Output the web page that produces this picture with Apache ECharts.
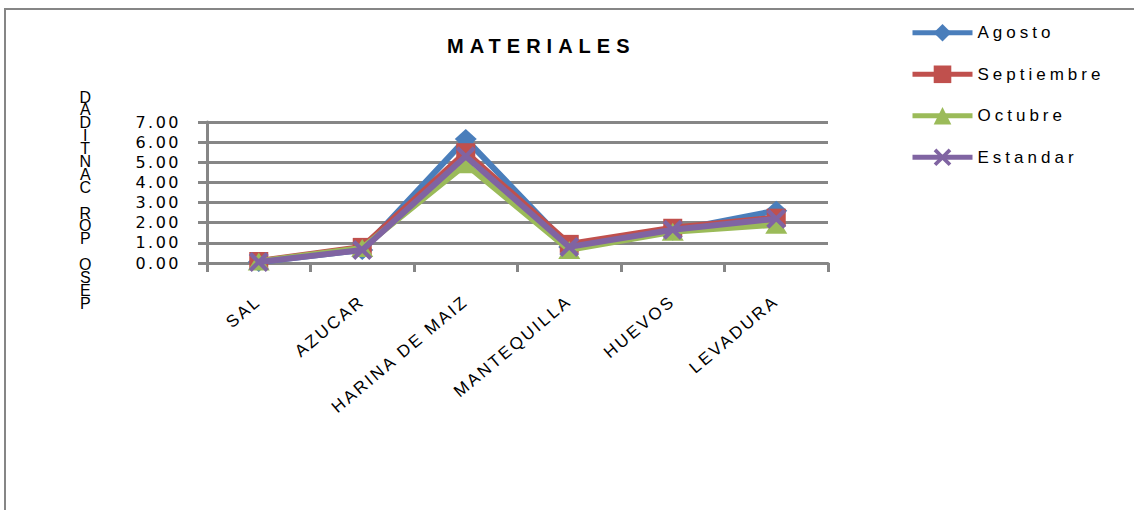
<!DOCTYPE html>
<html>
<head>
<meta charset="utf-8">
<script src="https://cdn.jsdelivr.net/npm/echarts@6/dist/echarts.min.js"></script>
<style>
  html, body { margin: 0; padding: 0; background: #ffffff; }
  #chart { width: 1134px; height: 510px; }
  /* tracked (letter-spaced) text for title, legend, value and category labels */
  #chart text[style*="title-track"] { letter-spacing: 6px; }
  #chart text[style*="legend-track"] { letter-spacing: 4px; }
  #chart text[style*="tick-track"] { letter-spacing: 2.5px; }
  #chart text[style*="cat-track"] { letter-spacing: 2.5px; }
</style>
</head>
<body>
<div id="chart"></div>
<script>
// Ingredient quantities per month
const categories = ['SAL', 'AZUCAR', 'HARINA DE MAIZ', 'MANTEQUILLA', 'HUEVOS', 'LEVADURA'];
const agosto     = [0.05, 0.65, 6.15, 0.80, 1.60, 2.60];
const septiembre = [0.10, 0.80, 5.50, 0.95, 1.75, 2.25];
const octubre    = [0.08, 0.75, 4.90, 0.65, 1.55, 1.90];
const estandar   = [0.05, 0.65, 5.30, 0.80, 1.65, 2.20];
const seriesNames = ['Agosto', 'Septiembre', 'Octubre', 'Estandar'];
const yTicks = { min: 0, max: 7, interval: 1 };
const chartTitle = 'MATERIALES';
const yAxisTitle = 'PESO POR CANTIDAD';

const gray = '#868686';
const colors = ['#4a7ebb', '#c0504d', '#9bbb59', '#8064a2'];
const crossPath = 'path://M0,3 L3,0 L10,7 L17,0 L20,3 L13,10 L20,17 L17,20 L10,13 L3,20 L0,17 L7,10 Z';
const symbols = [
  { symbol: 'diamond', size: [22, 20] },
  { symbol: 'rect', size: [19, 18] },
  { symbol: 'triangle', size: [22, 18] },
  { symbol: crossPath, size: [20, 20] }
];
const values = [agosto, septiembre, octubre, estandar];

// stacked upright letters, read bottom to top
const stackedName = yAxisTitle.split('').reverse().join('\n');

const chart = echarts.init(document.getElementById('chart'), null, { renderer: 'svg' });

chart.setOption({
  backgroundColor: '#ffffff',
  animation: false,
  title: {
    text: chartTitle,
    left: 442,
    top: 31,
    textStyle: {
      fontFamily: "'Liberation Sans', title-track",
      fontSize: 20,
      fontWeight: 'bold',
      color: '#000000'
    }
  },
  legend: {
    orient: 'vertical',
    left: 905,
    top: 19,
    itemWidth: 60,
    itemHeight: 22,
    itemGap: 23.9,
    data: seriesNames,
    lineStyle: { width: 5 },
    textStyle: {
      fontFamily: "'Liberation Sans', legend-track",
      fontSize: 17,
      color: '#000000'
    }
  },
  grid: { left: 207, right: 306, top: 122, bottom: 247, containLabel: false },
  graphic: [
    {
      type: 'rect',
      silent: true,
      shape: { x: 5, y: 9, width: 1300, height: 700 },
      style: { fill: 'none', stroke: gray, lineWidth: 2 },
      z: -10
    },
    {
      type: 'text',
      left: 79,
      top: 89,
      style: {
        text: stackedName,
        font: '16px "Liberation Sans"',
        lineHeight: 12.9,
        fill: '#000000',
        textAlign: 'center'
      }
    }
  ],
  xAxis: {
    type: 'category',
    data: categories,
    boundaryGap: true,
    axisLine: { lineStyle: { color: gray, width: 3 } },
    axisTick: { show: true, length: 9, lineStyle: { color: gray, width: 3 } },
    axisLabel: {
      rotate: 40,
      margin: 36,
      interval: 0,
      fontFamily: "'Liberation Sans', cat-track",
      fontSize: 17,
      color: '#000000'
    },
    splitLine: { show: false }
  },
  yAxis: {
    type: 'value',
    min: yTicks.min,
    max: yTicks.max,
    interval: yTicks.interval,
    axisLine: { show: true, lineStyle: { color: gray, width: 3 } },
    axisTick: { show: true, length: 9, lineStyle: { color: gray, width: 3 } },
    axisLabel: {
      margin: 26,
      fontFamily: "'DejaVu Sans', tick-track",
      fontSize: 16,
      color: '#000000',
      formatter: v => v.toFixed(2)
    },
    splitLine: { show: true, lineStyle: { color: gray, width: 3 } }
  },
  series: seriesNames.map((name, i) => ({
    name: name,
    type: 'line',
    data: values[i],
    symbol: symbols[i].symbol,
    symbolSize: symbols[i].size,
    showAllSymbol: true,
    color: colors[i],
    lineStyle: { color: colors[i], width: 6 },
    itemStyle: { color: colors[i], borderWidth: 0 },
    z: 2 + i
  }))
});
</script>
</body>
</html>
